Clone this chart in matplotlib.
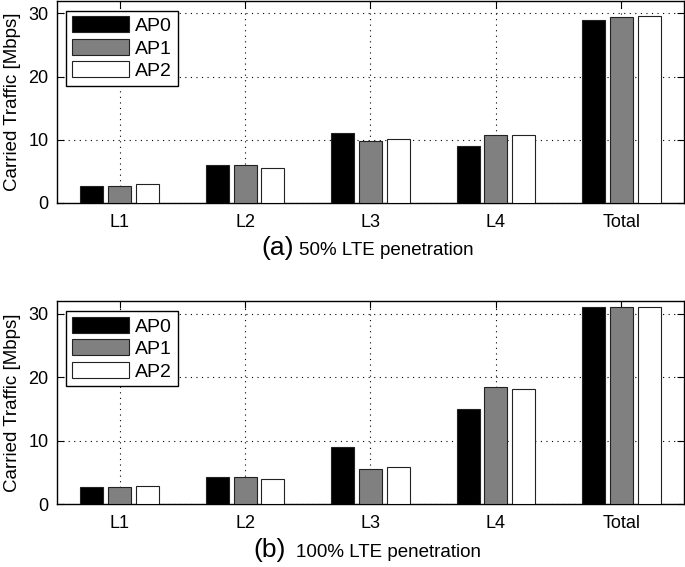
import matplotlib
matplotlib.use("Agg")
import matplotlib.pyplot as plt
import numpy as np

plt.rcParams['font.family'] = ['Liberation Sans', 'DejaVu Sans']

categories = ["L1", "L2", "L3", "L4", "Total"]
series_names = ["AP0", "AP1", "AP2"]
# panel (a) 50% LTE penetration
a_ap0 = [2.75, 6.0, 11.05, 9.0, 28.95]
a_ap1 = [2.75, 6.05, 9.8, 10.7, 29.4]
a_ap2 = [3.05, 5.6, 10.15, 10.7, 29.6]
# panel (b) 100% LTE penetration
b_ap0 = [2.8, 4.3, 9.05, 14.95, 31.05]
b_ap1 = [2.8, 4.25, 5.6, 18.45, 31.05]
b_ap2 = [2.95, 4.0, 5.85, 18.25, 31.05]
yticks = [0, 10, 20, 30]

colors = ["black", "#808080", "white"]

fig = plt.figure(figsize=(6.85, 5.67), dpi=100)

def draw(ax, data):
    x = np.arange(1, len(categories) + 1)
    off = 0.222
    w = 0.183
    for i, (vals, name) in enumerate(zip(data, series_names)):
        ax.bar(x + (i - 1) * off, vals, width=w, color=colors[i],
               edgecolor="#222222", linewidth=0.8, label=name, zorder=3)
    ax.set_xlim(0.5, 5.5)
    ax.set_ylim(0, 32)
    ax.set_xticks(x)
    ax.set_xticklabels(categories)
    ax.set_yticks(yticks)
    ax.grid(True, linestyle=(0, (1, 4)), color="black", linewidth=0.8)
    ax.set_axisbelow(True)
    ax.tick_params(direction="in", top=True, right=True, labelsize=13,
                   length=5, width=0.8)
    ax.tick_params(axis="x", pad=8)
    ax.tick_params(axis="y", pad=6)
    for s in ax.spines.values():
        s.set_linewidth(1.0)
    ax.set_ylabel("Carried Traffic [Mbps]", fontsize=13.5)
    ax.yaxis.set_label_coords(-0.058, 0.5)
    leg = ax.legend(loc="upper left", bbox_to_anchor=(0.014, 0.952),
                    fontsize=14, handlelength=2.95, handleheight=0.88,
                    fancybox=False, edgecolor="black", framealpha=1,
                    borderpad=0.3, labelspacing=0.2, handletextpad=0.3,
                    borderaxespad=0)
    leg.get_frame().set_linewidth(1.0)

ax1 = fig.add_axes([0.0832, 0.642, 0.9153, 0.3565])
draw(ax1, [a_ap0, a_ap1, a_ap2])
ax2 = fig.add_axes([0.0832, 0.1106, 0.9153, 0.358])
draw(ax2, [b_ap0, b_ap1, b_ap2])

fig.text(261 / 685, 1 - 255 / 567, "(a)", fontsize=19, va="baseline", ha="left")
fig.text(299 / 685, 1 - 255 / 567, "50% LTE penetration", fontsize=13.5,
         va="baseline", ha="left")
fig.text(253 / 685, 1 - 557 / 567, "(b)", fontsize=19, va="baseline", ha="left")
fig.text(296 / 685, 1 - 557 / 567, "100% LTE penetration", fontsize=13.5,
         va="baseline", ha="left")

fig.savefig("out.png", dpi=100)
